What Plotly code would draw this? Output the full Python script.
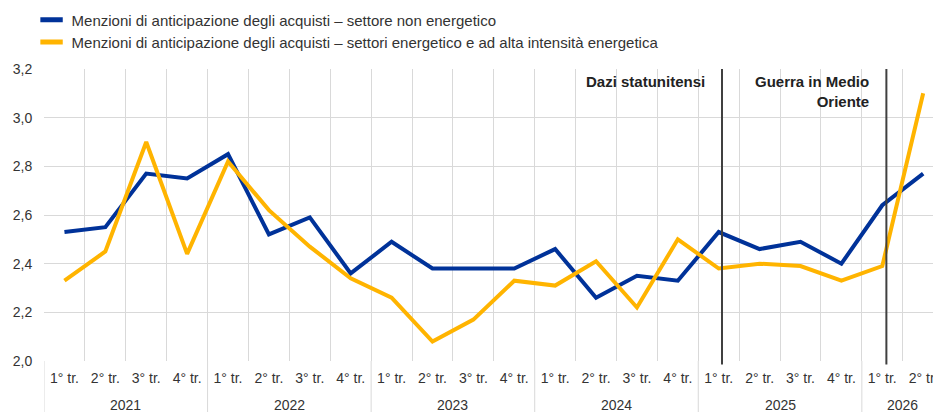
import plotly.graph_objects as go

# ---- data ----
quarter_labels = ["1° tr.", "2° tr.", "3° tr.", "4° tr."] * 5 + ["1° tr.", "2° tr."]
years = ["2021", "2022", "2023", "2024", "2025", "2026"]
quarters_per_year = [4, 4, 4, 4, 4, 2]
non_energy = [2.53, 2.55, 2.77, 2.75, 2.85, 2.52, 2.59, 2.36, 2.49, 2.38, 2.38,
              2.38, 2.46, 2.26, 2.35, 2.33, 2.53, 2.46, 2.49, 2.40, 2.64, 2.77]
energy = [2.33, 2.45, 2.90, 2.44, 2.82, 2.62, 2.47, 2.34, 2.26, 2.08, 2.17,
          2.33, 2.31, 2.41, 2.22, 2.50, 2.38, 2.40, 2.39, 2.33, 2.39, 3.10]
series_names = [
    "Menzioni di anticipazione degli acquisti – settore non energetico",
    "Menzioni di anticipazione degli acquisti – settori energetico e ad alta intensità energetica",
]
event_labels = ["Dazi statunitensi", "Guerra in Medio<br>Oriente"]
event_positions = [16.08, 20.1]
y_ticks = [2.0, 2.2, 2.4, 2.6, 2.8, 3.0, 3.2]

BLUE = "#003299"
YELLOW = "#FFB400"
GRID = "#D9D9D9"
TXT = "#333333"
FONT = "Liberation Sans, Arial, sans-serif"

x_idx = list(range(len(quarter_labels)))

fig = go.Figure()
legend_ids = ["legend", "legend2"]
for vals, col, name, lg in [(non_energy, BLUE, series_names[0], legend_ids[0]),
                            (energy, YELLOW, series_names[1], legend_ids[1])]:
    fig.add_trace(go.Scatter(x=x_idx, y=vals, mode="lines", line=dict(color=col, width=4),
                             showlegend=False, hoverinfo="skip"))
    fig.add_trace(go.Scatter(x=[None], y=[None], mode="markers", name=name, legend=lg,
                             marker=dict(symbol="line-ew", size=16, color=col,
                                         line=dict(width=5, color=col))))

# year boundaries / centers
bounds = []
centers = []
start = 0
for n in quarters_per_year:
    centers.append(start + (n - 1) / 2)
    bounds.append(start - 0.5)
    start += n

shapes = []
for b in bounds:
    shapes.append(dict(type="line", xref="x", yref="paper", x0=b, x1=b, y0=0, y1=-0.25,
                       line=dict(color=GRID, width=1), layer="below"))
for p in event_positions:
    shapes.append(dict(type="line", xref="x", yref="paper", x0=p, x1=p, y0=-0.012, y1=1,
                       line=dict(color="#404040", width=2)))

annotations = []
for yr, c in zip(years, centers):
    annotations.append(dict(x=c, xref="x", y=-0.15, yref="paper", text=yr, showarrow=False,
                            xanchor="center", yanchor="middle",
                            font=dict(family=FONT, size=14, color=TXT)))
for lab, p in zip(event_labels, event_positions):
    annotations.append(dict(x=p, xref="x", y=1, yref="paper", text="<b>" + lab + "</b>",
                            showarrow=False, xanchor="right", yanchor="top", align="right",
                            xshift=-15, yshift=-2,
                            font=dict(family=FONT, size=15, color="#222222")))

legend_common = dict(x=-0.014, xanchor="left", yanchor="middle", orientation="v",
                     font=dict(family=FONT, size=15, color=TXT), bgcolor="rgba(0,0,0,0)",
                     itemclick=False)

fig.update_layout(
    width=933, height=412,
    margin=dict(l=44, r=0, t=69, b=51, autoexpand=False),
    paper_bgcolor="white", plot_bgcolor="white",
    separators=",.",
    font=dict(family=FONT, size=14, color=TXT),
    shapes=shapes, annotations=annotations,
    legend=dict(y=1.168, **legend_common),
    legend2=dict(y=1.092, **legend_common),
    xaxis=dict(range=[-0.5, 21.24], tickmode="array", tickvals=x_idx, ticktext=quarter_labels,
               showgrid=False, zeroline=False, showline=False, ticklabeloverflow="allow",
               automargin=False,
               ticks="outside", ticklen=4, tickcolor="rgba(0,0,0,0)",
               tickfont=dict(family=FONT, size=14, color=TXT),
               minor=dict(tickmode="array", tickvals=[i - 0.5 for i in range(len(quarter_labels) + 1)],
                          showgrid=True, gridcolor=GRID, gridwidth=1, ticks="")),
    yaxis=dict(range=[2.0, 3.2], tickmode="array", tickvals=y_ticks, tickformat=".1f",
               showgrid=True, gridcolor=GRID, gridwidth=1, zeroline=False, showline=False,
               automargin=False,
               ticks="outside", ticklen=8, tickcolor="rgba(0,0,0,0)",
               tickfont=dict(family=FONT, size=14, color=TXT)),
)

fig.write_html("out.html", config={"displayModeBar": False},
               post_script="document.body.style.margin='0';")
